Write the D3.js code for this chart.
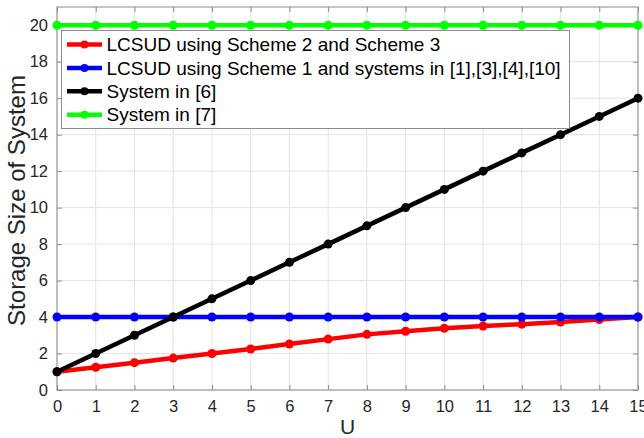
<!DOCTYPE html>
<html><head><meta charset="utf-8">
<script src="https://cdn.jsdelivr.net/npm/d3@7"></script>
<style>
html,body{margin:0;padding:0;background:#fff;}
svg{display:block;font-family:"Liberation Sans",Arial,Helvetica,sans-serif;}
</style></head>
<body><svg id="chart" width="644" height="438"></svg>
<script>
const U = [0,1,2,3,4,5,6,7,8,9,10,11,12,13,14,15];
const scheme23 = [1,1.25,1.5,1.75,2,2.25,2.52,2.79,3.05,3.22,3.38,3.51,3.61,3.73,3.86,4];
const scheme1 = [4,4,4,4,4,4,4,4,4,4,4,4,4,4,4,4];
const system6 = [1,2,3,4,5,6,7,8,9,10,11,12,13,14,15,16];
const system7 = [20,20,20,20,20,20,20,20,20,20,20,20,20,20,20,20];
const seriesNames = ["LCSUD using Scheme 2 and Scheme 3","LCSUD using Scheme 1 and systems in [1],[3],[4],[10]","System in [6]","System in [7]"];
const seriesColors = ["#ff0000","#0000ff","#000000","#00ff00"];
const xTicks = [0,1,2,3,4,5,6,7,8,9,10,11,12,13,14,15];
const yTicks = [0,2,4,6,8,10,12,14,16,18,20];
const xLabel = "U", yLabel = "Storage Size of System";

const series = [scheme23, scheme1, system6, system7];
const svg = d3.select("#chart");
const L=57, R=638, T=7, B=390;
const x = d3.scaleLinear().domain([0,15]).range([L,R]);
const y = d3.scaleLinear().domain([0,21]).range([B,T]);
const axisCol = "#262626";

// grid
const g = svg.append("g");
g.selectAll(".gx").data(xTicks).join("line").attr("x1",d=>x(d)).attr("x2",d=>x(d)).attr("y1",T).attr("y2",B).attr("stroke","#e3e3e3").attr("stroke-width",1);
g.selectAll(".gy").data(yTicks).join("line").attr("y1",d=>y(d)).attr("y2",d=>y(d)).attr("x1",L).attr("x2",R).attr("stroke","#e3e3e3").attr("stroke-width",1);

// axes (inside ticks)
const ax = svg.append("g").attr("transform",`translate(0,${B})`).call(d3.axisBottom(x).tickValues(xTicks).tickSizeInner(-5).tickSizeOuter(0).tickPadding(10));
const axT = svg.append("g").attr("transform",`translate(0,${T})`).call(d3.axisTop(x).tickValues(xTicks).tickSizeInner(-5).tickSizeOuter(0).tickFormat(""));
const ay = svg.append("g").attr("transform",`translate(${L},0)`).call(d3.axisLeft(y).tickValues(yTicks).tickSizeInner(-5).tickSizeOuter(0).tickPadding(9));
const ayR = svg.append("g").attr("transform",`translate(${R},0)`).call(d3.axisRight(y).tickValues(yTicks).tickSizeInner(-5).tickSizeOuter(0).tickFormat(""));
[ax,axT,ay,ayR].forEach(a=>{
  a.selectAll("path").attr("stroke","#8c8c8c").attr("stroke-width",1);
  a.selectAll("line").attr("stroke","#8c8c8c");
  a.selectAll("text").attr("fill",axisCol).style("font-size","16.5px").style("font-family","'Liberation Sans',Arial,sans-serif");
});
ax.selectAll("text").attr("y",10).attr("dy","0.71em");
ax.select(".domain").remove(); axT.select(".domain").remove(); ay.select(".domain").remove(); ayR.select(".domain").remove();
svg.append("rect").attr("x",L).attr("y",T).attr("width",R-L).attr("height",B-T).attr("fill","none").attr("stroke","#8c8c8c").attr("stroke-width",1);

// labels
svg.append("text").attr("x",(L+R)/2).attr("y",434).attr("text-anchor","middle").attr("fill",axisCol).style("font-size","21px").text(xLabel);
svg.append("text").attr("transform",`translate(25,${(T+B)/2+2}) rotate(-90)`).attr("text-anchor","middle").attr("fill",axisCol).style("font-size","24px").text(yLabel);

// series
const line = d3.line().x((d,i)=>x(U[i])).y(d=>y(d));
series.forEach((s,k)=>{
  const sg = svg.append("g");
  sg.append("path").datum(s).attr("d",line).attr("fill","none").attr("stroke",seriesColors[k]).attr("stroke-width",4.5).attr("stroke-linejoin","round");
  sg.selectAll("circle").data(s).join("circle").attr("cx",(d,i)=>x(U[i])).attr("cy",d=>y(d)).attr("r",4.5).attr("fill",seriesColors[k]);
});

// legend
const lg = svg.append("g");
lg.append("rect").attr("x",61.5).attr("y",30.5).attr("width",508).attr("height",98).attr("fill","#fff").attr("stroke","#8c8c8c").attr("stroke-width",1);
seriesNames.forEach((n,k)=>{
  const yy = 44.5 + k*23.4;
  lg.append("line").attr("x1",67).attr("x2",102).attr("y1",yy).attr("y2",yy).attr("stroke",seriesColors[k]).attr("stroke-width",4.5);
  lg.append("circle").attr("cx",84.5).attr("cy",yy).attr("r",4).attr("fill",seriesColors[k]);
  lg.append("text").attr("x",106.5).attr("y",yy).attr("dy","0.35em").attr("fill","#000").style("font-size","19px").text(n);
});
</script></body></html>
